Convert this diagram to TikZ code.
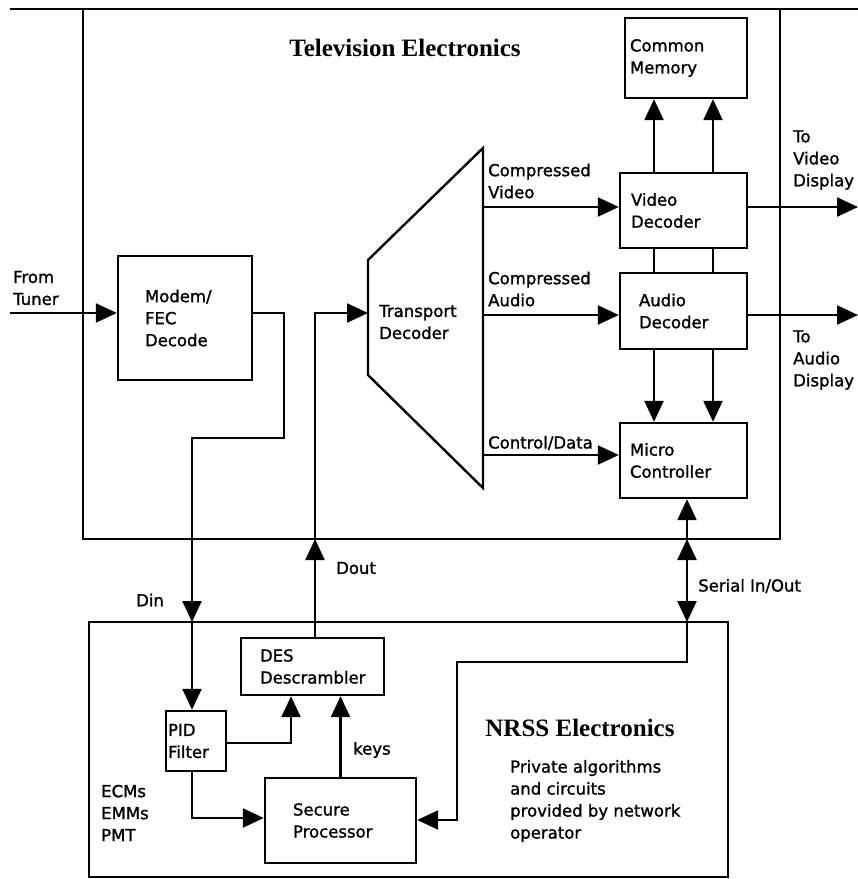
\documentclass[tikz,border=0pt]{standalone}
\usepackage{fontspec}
\setmainfont{DejaVu Sans}
\newfontfamily\lblfam{DejaVu Sans}[BoldFont={DejaVu Sans}, BoldFeatures={FakeBold=1.3}]
\newfontfamily\titlefont{Liberation Serif}
\usetikzlibrary{arrows.meta}
\newcommand\lblfont{\lblfam\bfseries\fontsize{16.5}{22}\selectfont}
\begin{document}
\begin{tikzpicture}[x=1pt,y=-1pt,
  line width=2.4pt, line join=miter,
  box/.style={draw, align=left, font=\lblfont, inner ysep=0pt},
  arr/.style={-{Triangle[length=21pt,width=19pt]}},
  arrtwo/.style={{Triangle[length=21pt,width=19pt]}-{Triangle[length=21pt,width=19pt]}},
  lbl/.style={font=\lblfont, align=left, anchor=west, inner sep=0pt},
  ttl/.style={font=\titlefont\bfseries\fontsize{25}{28}\selectfont, inner sep=0pt}]
\useasboundingbox (0,0) rectangle (858,879);

% enclosures
\draw (10,9) -- (858,9);
\draw (83,9) -- (83,539) -- (780,539) -- (780,9);
\draw (89,622) rectangle (728,877);

% titles
\node[ttl] (tvt) at (405,48) {Television Electronics};
\node[ttl] (nrsst) at (580,728) {NRSS Electronics};

% boxes
\node[box, minimum width=122pt, minimum height=80pt, inner xsep=5pt, text width=112pt] (mem) at (686,58) {Common\\Memory};
\node[box, minimum width=127pt, minimum height=75pt, inner xsep=11pt, text width=105pt] (vd) at (683.5,210.5) {Video\\Decoder};
\node[box, minimum width=127pt, minimum height=76pt, inner xsep=19pt, text width=89pt] (ad) at (683.5,311) {Audio\\Decoder};
\node[box, minimum width=127pt, minimum height=75pt, inner xsep=10pt, text width=107pt] (mc) at (683.5,460.5) {Micro\\Controller};
\node[box, minimum width=134pt, minimum height=124pt, inner xsep=27pt, text width=80pt] (modem) at (185,318) {Modem/\\FEC\\Decode};
\node[box, minimum width=143pt, minimum height=57pt, inner xsep=19pt, text width=105pt] (des) at (312.5,666.5) {DES\\Descrambler};
\node[box, minimum width=60pt, minimum height=60pt, inner xsep=2pt, text width=56pt] (pid) at (196,741) {PID\\Filter};
\node[box, minimum width=151pt, minimum height=85pt, inner xsep=28pt, text width=95pt] (secure) at (340.5,820.5) {Secure\\Processor};

% transport decoder
\coordinate (t1) at (368,260);
\coordinate (t2) at (483,148);
\coordinate (t3) at (483,488);
\coordinate (t4) at (368,375);
\draw (t1) -- (t2) -- (t3) -- (t4) -- cycle;
\node[lbl] (tdtext) at (378,322) {Transport\\Decoder};

% labels
\node[lbl] (fromtuner) at (12,288) {From\\Tuner};
\node[lbl] (cvl) at (487,181) {Compressed\\Video};
\node[lbl] (cal) at (487,289) {Compressed\\Audio};
\node[lbl] (cdl) at (487,443) {Control/Data};
\node[lbl] (tvd) at (792,160) {To\\Video\\Display};
\node[lbl] (tad) at (792,360) {To\\Audio\\Display};
\node[lbl] (doutl) at (335,568) {Dout};
\node[lbl] (dinl) at (135,600) {Din};
\node[lbl] (serl) at (697,586) {Serial In/Out};
\node[lbl] (keysl) at (352,750) {keys};
\node[lbl] (ecm) at (100,813) {ECMs\\EMMs\\PMT};
\node[lbl] (priv) at (509,801) {Private algorithms\\and circuits\\provided by network\\operator};

% coordinates
\coordinate (tuner) at (10,313);
\coordinate (din) at (192,622);
\coordinate (dout) at (315,539);
\coordinate (tdin) at (368,313);
\coordinate (cv) at (483,207);
\coordinate (ca) at (483,315);
\coordinate (cd) at (483,455);
\coordinate (c1) at (654,0);
\coordinate (c2) at (713,0);
\coordinate (vout) at (858,207);
\coordinate (aout) at (858,315);
\coordinate (s1) at (687,539);
\coordinate (s2) at (687,622);
\coordinate (sp) at (457,820);
\coordinate (pd) at (291,743);
\coordinate (ps) at (192,818);

% connectors
\draw[arr] (tuner) -- (tuner -| modem.west);
\draw[arr] (modem.east |- tuner) -- (284,313) -- (284,438) -- (192,438) -- (din);
\draw[arr] (din) -- (din |- pid.north);
\draw[arr] (des.north -| dout) -- (dout);
\draw[arr] (dout) -- (dout |- tdin) -- (tdin);
\draw[arr] (cv) -- (cv -| vd.west);
\draw[arr] (ca) -- (ca -| ad.west);
\draw[arr] (cd) -- (cd -| mc.west);
\draw[arr] (c1 |- vd.north) -- (c1 |- mem.south);
\draw[arr] (c2 |- vd.north) -- (c2 |- mem.south);
\draw (c1 |- vd.south) -- (c1 |- ad.north);
\draw (c2 |- vd.south) -- (c2 |- ad.north);
\draw[arr] (c1 |- ad.south) -- (c1 |- mc.north);
\draw[arr] (c2 |- ad.south) -- (c2 |- mc.north);
\draw[arr] (vout -| vd.east) -- (vout);
\draw[arr] (aout -| ad.east) -- (aout);
\draw[arr] (s1) -- (s1 |- mc.south);
\draw[arrtwo] (s1) -- (s2);
\draw[arr] (s2) -- (687,662) -- (457,662) -- (sp) -- (sp -| secure.east);
\draw[arr] (pd -| pid.east) -- (pd) -- (pd |- des.south);
\draw[arr] (secure.north) -- (secure.north |- des.south);
\draw[arr] (ps |- pid.south) -- (ps) -- (ps -| secure.west);
\end{tikzpicture}
\end{document}
